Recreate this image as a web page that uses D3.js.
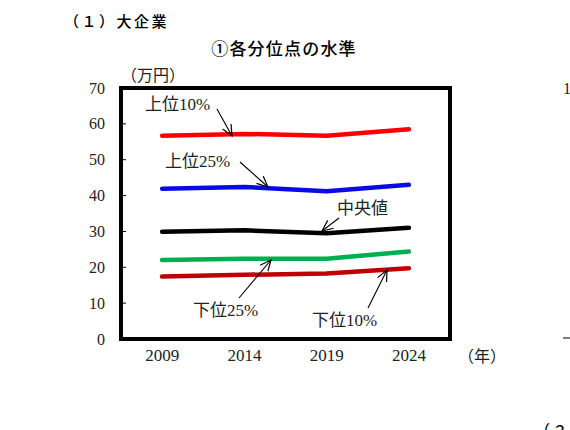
<!DOCTYPE html>
<html><head><meta charset="utf-8">
<script src="https://cdn.jsdelivr.net/npm/d3@7/dist/d3.min.js"></script>
<style>
html,body{margin:0;padding:0;background:#fff;overflow:hidden;}
svg{display:block;}
</style></head>
<body>
<svg id="chart" width="570" height="430"></svg>
<script>
const years = ["2009","2014","2019","2024"];
const yTicks = [0,10,20,30,40,50,60,70];
const top10 = [56.7, 57.2, 56.7, 58.5];
const top25 = [41.9, 42.4, 41.2, 43.0];
const median = [29.9, 30.3, 29.5, 31.0];
const bottom25 = [22.0, 22.4, 22.4, 24.4];
const bottom10 = [17.4, 17.9, 18.3, 19.7];
const seriesNames = ["上位10%","上位25%","中央値","下位25%","下位10%"];
const seriesColors = ["#ff0000","#0a0ae6","#000000","#00b050","#c00000"];
const seriesValues = [top10, top25, median, bottom25, bottom10];

const svg = d3.select("#chart");
const L = 121, R = 450, T = 88, B = 339;
const x = d3.scaleBand().domain(years).range([L, R]);
const y = d3.scaleLinear().domain([0, 70]).range([B, T]);
const cx = d => x(d) + x.bandwidth() / 2;

const serif = "'Liberation Serif','Noto Sans CJK JP',serif";
const sans = "'Noto Sans CJK JP','Noto Sans',sans-serif";

// titles
svg.append("text").attr("x", 64).attr("y", 27).attr("font-family", sans)
  .attr("font-size", 15).attr("font-weight", 500).attr("letter-spacing", 2.5)
  .attr("fill", "#000").text("（１）大企業");
svg.append("text").attr("x", 284).attr("y", 55).attr("text-anchor", "middle")
  .attr("font-family", sans).attr("font-size", 17).attr("font-weight", 500)
  .attr("letter-spacing", 1.2).attr("fill", "#000").text("①各分位点の水準");

// unit labels
svg.append("text").attr("x", 121).attr("y", 81).attr("font-family", serif)
  .attr("font-size", 16).attr("fill", "#222").text("（万円）");
svg.append("text").attr("x", 458).attr("y", 362).attr("font-family", serif)
  .attr("font-size", 16).attr("fill", "#222").text("（年）");

// y axis
const yAxis = d3.axisLeft(y).tickValues(yTicks).tickSize(0).tickPadding(16);
const yg = svg.append("g").attr("transform", `translate(${L},0)`).call(yAxis);
yg.select(".domain").remove();
yg.selectAll("text").attr("font-family", serif).attr("font-size", 16).attr("fill", "#222");
// small inward ticks
svg.append("g").selectAll("line").data(yTicks).join("line")
  .attr("x1", L).attr("x2", L + 5).attr("y1", d => y(d)).attr("y2", d => y(d))
  .attr("stroke", "#000").attr("stroke-width", 1);

// x axis
const xAxis = d3.axisBottom(x).tickSize(0).tickPadding(10);
const xg = svg.append("g").attr("transform", `translate(0,${B})`).call(xAxis);
xg.select(".domain").remove();
xg.selectAll("text").attr("font-family", serif).attr("font-size", 17).attr("fill", "#222");

// lines
const line = d3.line().x((d, i) => cx(years[i])).y(d => y(d));
svg.append("g").selectAll("path").data(seriesValues).join("path")
  .attr("d", d => line(d)).attr("fill", "none")
  .attr("stroke", (d, i) => seriesColors[i]).attr("stroke-width", 4.5)
  .attr("stroke-linecap", "round").attr("stroke-linejoin", "round");

// frame
svg.append("rect").attr("x", L).attr("y", T).attr("width", R - L).attr("height", B - T)
  .attr("fill", "none").attr("stroke", "#000").attr("stroke-width", 4);

// annotations
svg.append("defs").append("marker").attr("id", "arr")
  .attr("viewBox", "0 0 12 12").attr("refX", 11).attr("refY", 6)
  .attr("markerWidth", 12).attr("markerHeight", 12).attr("markerUnits", "userSpaceOnUse")
  .attr("orient", "auto")
  .append("path").attr("d", "M0,1 L11,6 L0,11").attr("fill", "none")
  .attr("stroke", "#000").attr("stroke-width", 1.2);

const labels = [
  {t: seriesNames[0], tx: 145, ty: 110, x1: 217, y1: 109, x2: 232, y2: 136},
  {t: seriesNames[1], tx: 165, ty: 167, x1: 240, y1: 162, x2: 268, y2: 187},
  {t: seriesNames[2], tx: 337, ty: 214, x1: 339, y1: 218, x2: 322, y2: 231},
  {t: seriesNames[3], tx: 193, ty: 316, x1: 239, y1: 298, x2: 271, y2: 260},
  {t: seriesNames[4], tx: 312, ty: 326, x1: 368, y1: 308, x2: 387, y2: 270}
];
const ag = svg.append("g");
labels.forEach(l => {
  ag.append("text").attr("x", l.tx).attr("y", l.ty).attr("font-family", serif)
    .attr("font-size", 17).attr("fill", "#222").text(l.t);
  ag.append("line").attr("x1", l.x1).attr("y1", l.y1).attr("x2", l.x2).attr("y2", l.y2)
    .attr("stroke", "#000").attr("stroke-width", 1.1).attr("marker-end", "url(#arr)");
});

// fragments of neighbouring chart at right edge
svg.append("text").attr("x", 563).attr("y", 94).attr("font-family", serif)
  .attr("font-size", 16).attr("fill", "#222").text("100");
svg.append("line").attr("x1", 563).attr("x2", 570).attr("y1", 338).attr("y2", 338)
  .attr("stroke", "#000").attr("stroke-width", 1);
svg.append("text").attr("x", 535).attr("y", 436).attr("font-family", sans)
  .attr("font-size", 15).attr("font-weight", 500).attr("letter-spacing", 2.5)
  .attr("fill", "#000").text("（２）中小企業");
</script>
</body></html>
